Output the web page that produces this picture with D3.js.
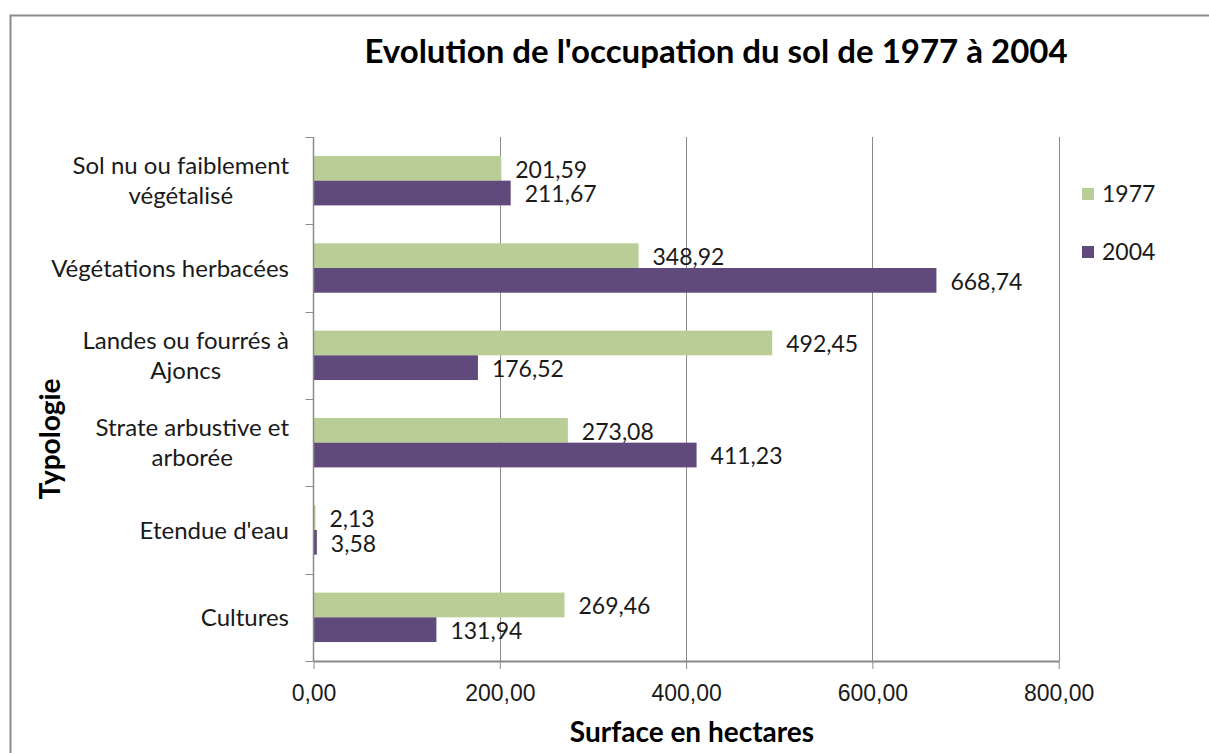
<!DOCTYPE html>
<html>
<head>
<meta charset="utf-8">
<script src="https://cdn.jsdelivr.net/npm/d3@7"></script>
<style>
  body { margin: 0; background: #fff; }
  svg { display: block; font-family: Lato, "Open Sans", sans-serif; }
</style>
</head>
<body>
<svg id="chart" width="1209" height="753"></svg>
<script>
var categories = [
    "Sol nu ou faiblement|végétalisé",
    "Végétations herbacées",
    "Landes ou fourrés à|Ajoncs",
    "Strate arbustive et|arborée",
    "Etendue d'eau",
    "Cultures"
];
var series = ["1977", "2004"];
var values1977 = [201.59, 348.92, 492.45, 273.08, 2.13, 269.46];
var values2004 = [211.67, 668.74, 176.52, 411.23, 3.58, 131.94];
var xTicks = [0, 200, 400, 600, 800];

var colors = { "1977": "#b9cd96", "2004": "#604a7b" };

var svg = d3.select('#chart');
var fmt = function (v) { return v.toFixed(2).replace('.', ','); };

// outer frame of the chart
svg.append('rect')
    .attr('x', 10.5).attr('y', 15.5)
    .attr('width', 1230).attr('height', 800)
    .attr('fill', 'none')
    .attr('stroke', '#8c8c8c')
    .attr('stroke-width', 2);

var pLeft = 313.5, pRight = 1058.7, pTop = 137, pBottom = 661;

var x = d3.scaleLinear().domain([0, 800]).range([pLeft, pRight]);
var y = d3.scaleBand().domain(categories).range([pTop, pBottom]).paddingInner(0.434).paddingOuter(0.217);
var sub = d3.scaleBand().domain(series).range([0, y.bandwidth()]);

// vertical gridlines
svg.append('g').selectAll('line')
    .data(xTicks.slice(1))
    .enter().append('line')
    .attr('x1', function (d) { return Math.round(x(d)) + 0.5; })
    .attr('x2', function (d) { return Math.round(x(d)) + 0.5; })
    .attr('y1', pTop).attr('y2', pBottom)
    .attr('stroke', '#8a8a8a');

var rows = categories.map(function (c, i) {
    return { cat: c, vals: [{ s: "1977", v: values1977[i] }, { s: "2004", v: values2004[i] }] };
});

var groups = svg.append('g').selectAll('g')
    .data(rows)
    .enter().append('g')
    .attr('transform', function (d) { return 'translate(0,' + y(d.cat) + ')'; });

groups.selectAll('rect')
    .data(function (d) { return d.vals; })
    .enter().append('rect')
    .attr('x', x(0))
    .attr('y', function (d) { return sub(d.s); })
    .attr('width', function (d) { return x(d.v) - x(0); })
    .attr('height', sub.bandwidth())
    .attr('fill', function (d) { return colors[d.s]; });

groups.selectAll('text')
    .data(function (d) { return d.vals; })
    .enter().append('text')
    .attr('x', function (d) { return x(d.v) + 14; })
    .attr('y', function (d) { return sub(d.s) + sub.bandwidth() / 2 + 1; })
    .attr('dy', '0.36em')
    .attr('font-size', 23)
    .attr('fill', '#1a1a1a')
    .text(function (d) { return fmt(d.v); });

// x axis
var xAxis = svg.append('g')
    .attr('transform', 'translate(0,' + pBottom + ')')
    .call(d3.axisBottom(x).tickValues(xTicks).tickFormat(fmt).tickSize(8).tickSizeOuter(0).tickPadding(16));
xAxis.select('.domain').attr('stroke', '#8a8a8a').attr('stroke-width', 2);
xAxis.selectAll('.tick line').attr('stroke', '#8a8a8a');
xAxis.selectAll('text').attr('font-size', 23).attr('fill', '#1a1a1a').attr('font-family', null);

// y axis: ticks between categories
var yTicks = d3.range(categories.length + 1).map(function (i) {
    return pTop + i * (pBottom - pTop) / categories.length;
});
svg.append('line')
    .attr('x1', pLeft).attr('x2', pLeft)
    .attr('y1', pTop).attr('y2', pBottom)
    .attr('stroke', '#8a8a8a').attr('stroke-width', 1.5);
svg.append('g').selectAll('line')
    .data(yTicks)
    .enter().append('line')
    .attr('x1', pLeft - 8).attr('x2', pLeft)
    .attr('y1', function (d) { return Math.round(d) + 0.5; })
    .attr('y2', function (d) { return Math.round(d) + 0.5; })
    .attr('stroke', '#8a8a8a');

// category labels (wrapped, lines centred inside a right-aligned block)
var labels = svg.append('g').selectAll('g')
    .data(categories)
    .enter().append('g');
labels.each(function (c) {
    var g = d3.select(this);
    var lines = c.split('|');
    var cy = y(c) + y.bandwidth() / 2;
    var texts = lines.map(function (l, i) {
        return g.append('text')
            .attr('y', cy + (i - (lines.length - 1) / 2) * 30)
            .attr('dy', '0.36em')
            .attr('font-size', 24)
            .attr('fill', '#1a1a1a')
            .attr('text-anchor', 'middle')
            .text(l);
    });
    var w = d3.max(texts, function (t) { return t.node().getComputedTextLength(); });
    texts.forEach(function (t) { t.attr('x', 289 - w / 2); });
});

// titles
svg.append('text')
    .attr('x', 716).attr('y', 63)
    .attr('text-anchor', 'middle')
    .attr('font-size', 33).attr('font-weight', 'bold')
    .text("Evolution de l'occupation du sol de 1977 à 2004");

svg.append('text')
    .attr('x', 692).attr('y', 742)
    .attr('text-anchor', 'middle')
    .attr('font-size', 28).attr('font-weight', 'bold')
    .text("Surface en hectares");

svg.append('text')
    .attr('transform', 'translate(60,439) rotate(-90)')
    .attr('text-anchor', 'middle')
    .attr('font-size', 28).attr('font-weight', 'bold')
    .text("Typologie");

// legend
var legend = svg.append('g').selectAll('g')
    .data(series)
    .enter().append('g')
    .attr('transform', function (d, i) { return 'translate(1082,' + (194 + i * 58) + ')'; });
legend.append('rect')
    .attr('x', 0).attr('y', -6)
    .attr('width', 12).attr('height', 12)
    .attr('fill', function (d) { return colors[d]; });
legend.append('text')
    .attr('x', 20).attr('dy', '0.36em')
    .attr('font-size', 23).attr('fill', '#1a1a1a')
    .text(function (d) { return d; });
</script>
</body>
</html>
